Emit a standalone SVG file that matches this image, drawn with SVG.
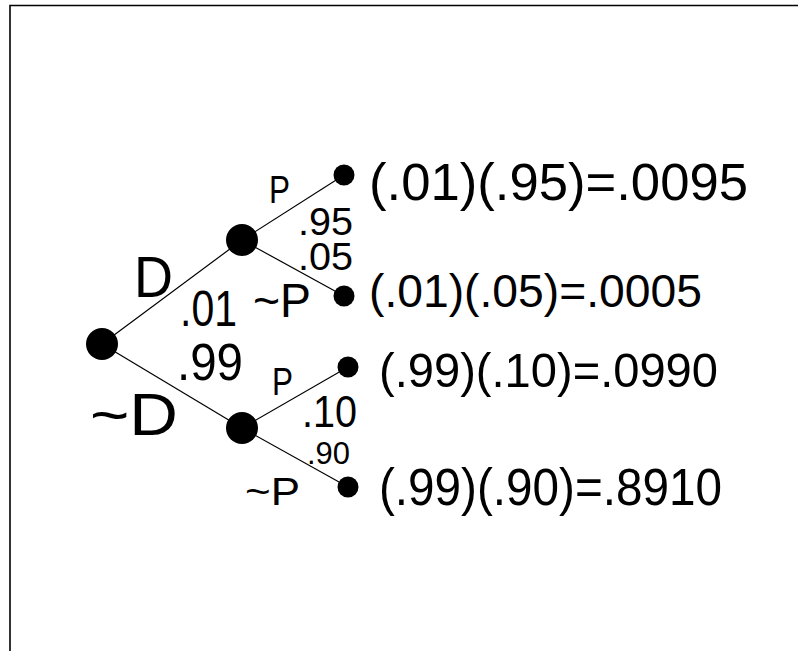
<svg xmlns="http://www.w3.org/2000/svg" width="798" height="651" viewBox="0 0 798 651">
<style>
text{font-family:"Liberation Sans",Arial,sans-serif;fill:#000}
.edge{stroke:#000;stroke-width:1.2;fill:none}
.big{fill:#000}
</style>
<rect x="0" y="0" width="798" height="651" fill="#fff"/>
<g id="frame"><path d="M10,651 V5.5 H798" stroke="#000" stroke-width="1.6" fill="none"/></g>
<g id="connectors">
<line class="edge" x1="102" y1="344" x2="242" y2="240"/>
<line class="edge" x1="102" y1="344" x2="242" y2="428"/>
<line class="edge" x1="242" y1="240" x2="344" y2="175"/>
<line class="edge" x1="242" y1="240" x2="344" y2="296"/>
<line class="edge" x1="242" y1="428" x2="348" y2="367"/>
<line class="edge" x1="242" y1="428" x2="348" y2="487"/>
</g>
<g id="root"><circle class="big" cx="102" cy="344" r="16"/></g>
<g id="nodeD"><circle class="big" cx="242" cy="240" r="16"/></g>
<g id="nodeNotD"><circle class="big" cx="242" cy="428" r="16"/></g>
<g id="leaf1"><circle class="big" cx="344" cy="175" r="10.5"/>
<text x="369" y="200" font-size="52" textLength="379" lengthAdjust="spacingAndGlyphs">(.01)(.95)=.0095</text></g>
<g id="leaf2"><circle class="big" cx="344" cy="296" r="10.5"/>
<text x="369" y="307" font-size="47" textLength="333" lengthAdjust="spacingAndGlyphs">(.01)(.05)=.0005</text></g>
<g id="leaf3"><circle class="big" cx="348" cy="367" r="10.5"/>
<text x="379" y="387" font-size="49" textLength="339" lengthAdjust="spacingAndGlyphs">(.99)(.10)=.0990</text></g>
<g id="leaf4"><circle class="big" cx="348" cy="487" r="10.5"/>
<text x="379" y="505" font-size="51" textLength="343" lengthAdjust="spacingAndGlyphs">(.99)(.90)=.8910</text></g>
<g id="labels">
<text x="269" y="203" font-size="39" textLength="21" lengthAdjust="spacingAndGlyphs">P</text>
<text x="298" y="235" font-size="38" textLength="55" lengthAdjust="spacingAndGlyphs">.95</text>
<text x="298" y="270" font-size="38" textLength="55" lengthAdjust="spacingAndGlyphs">.05</text>
<text x="134" y="297" font-size="57" textLength="39" lengthAdjust="spacingAndGlyphs">D</text>
<text x="180" y="326" font-size="50" textLength="57" lengthAdjust="spacingAndGlyphs">.01</text>
<text x="253" y="317" font-size="49" textLength="58" lengthAdjust="spacingAndGlyphs">~P</text>
<text x="177" y="380" font-size="52" textLength="66" lengthAdjust="spacingAndGlyphs">.99</text>
<text x="272" y="395" font-size="39" textLength="21" lengthAdjust="spacingAndGlyphs">P</text>
<text x="90" y="435" font-size="59" textLength="88" lengthAdjust="spacingAndGlyphs">~D</text>
<text x="302" y="427" font-size="45" textLength="55" lengthAdjust="spacingAndGlyphs">.10</text>
<text x="307" y="464" font-size="31" textLength="43" lengthAdjust="spacingAndGlyphs">.90</text>
<text x="245" y="505" font-size="39" textLength="55" lengthAdjust="spacingAndGlyphs">~P</text>
</g>
</svg>
